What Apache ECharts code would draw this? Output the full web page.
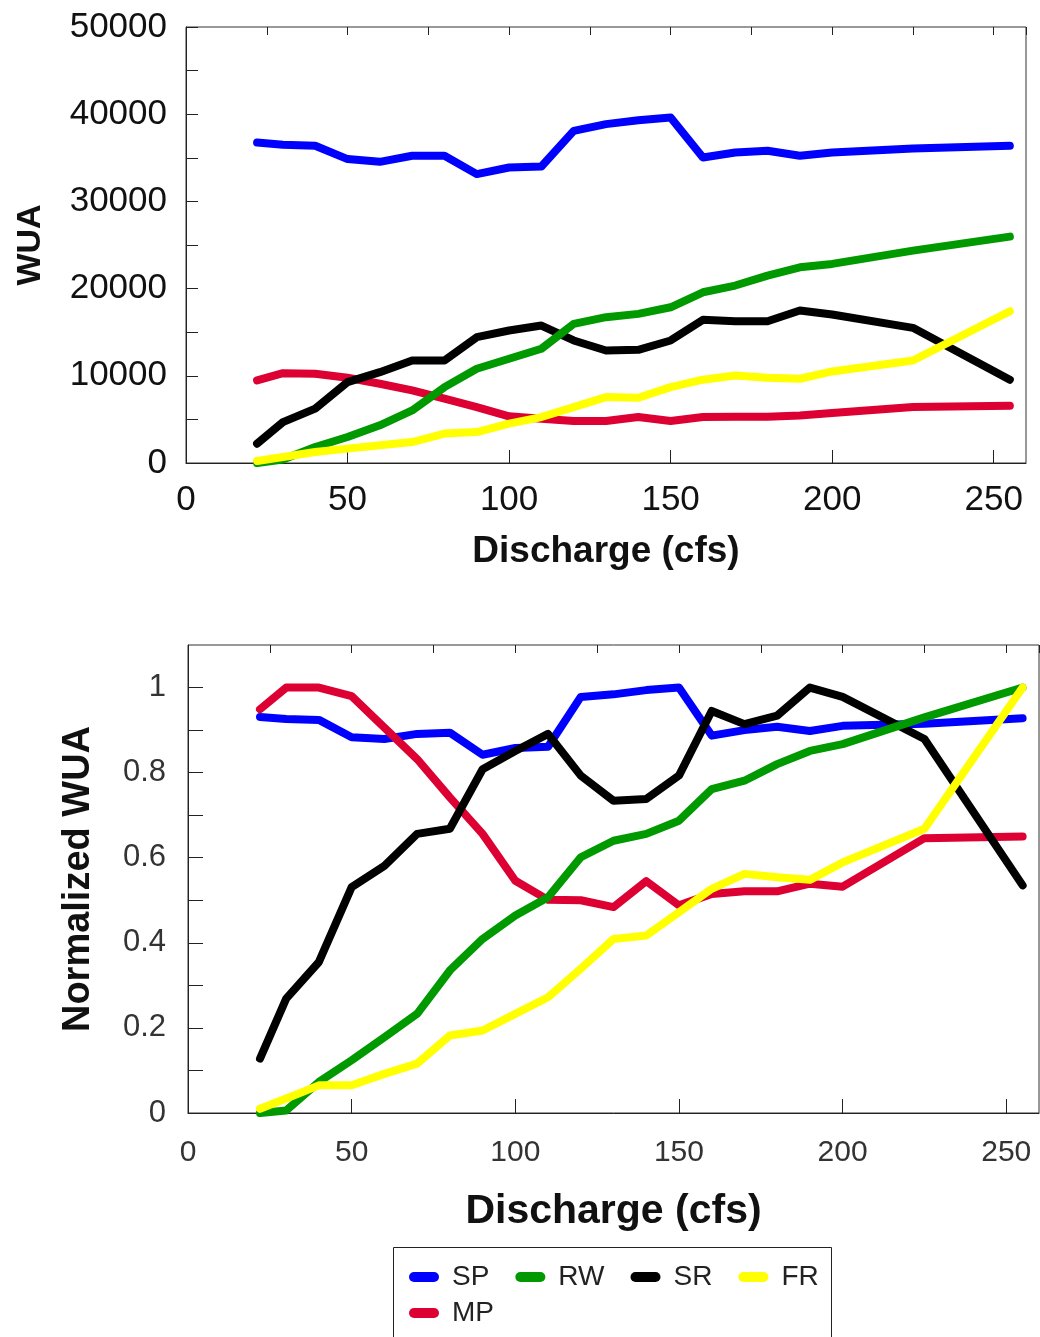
<!DOCTYPE html>
<html>
<head>
<meta charset="utf-8">
<script src="https://cdn.jsdelivr.net/npm/echarts@6/dist/echarts.min.js"></script>
<style>
html,body{margin:0;padding:0;background:#fff;}
#c{width:1040px;height:1337px;}
</style>
</head>
<body>
<div id="c"></div>
<script>
// ---- Data ----
const discharge = [22,30,40,50,60,70,80,90,100,110,120,130,140,150,160,170,180,190,200,225,255];

// Top panel: WUA
const wuaSP = [36750,36500,36380,34850,34540,35230,35230,33130,33890,34000,38090,38860,39310,39620,35030,35610,35800,35230,35610,36070,36380];
const wuaRW = [0,390,1830,2980,4320,6030,8700,10810,11950,13100,15960,16720,17100,17860,19580,20350,21490,22440,22830,24350,25960];
const wuaSR = [2220,4690,6230,9270,10420,11760,11760,14430,15190,15760,14050,12900,12980,14050,16420,16260,16260,17480,17030,15500,9550];
const wuaFR = [230,690,1260,1650,2030,2400,3370,3550,4510,5270,6410,7560,7490,8700,9550,10040,9780,9660,10500,11760,17400];
const wuaMP = [9470,10300,10240,9780,9090,8320,7370,6410,5350,5080,4810,4810,5270,4810,5270,5310,5310,5460,5730,6410,6570];

// Bottom panel: Normalized WUA
const normSP = [0.931,0.926,0.924,0.883,0.879,0.891,0.894,0.842,0.858,0.861,0.978,0.984,0.994,1.0,0.887,0.9,0.908,0.898,0.91,0.915,0.928];
const normRW = [0,0.006,0.073,0.124,0.178,0.233,0.335,0.409,0.464,0.507,0.601,0.64,0.656,0.687,0.761,0.781,0.82,0.851,0.867,0.93,1.0];
const normSR = [0.128,0.269,0.355,0.531,0.581,0.656,0.668,0.808,0.851,0.891,0.793,0.734,0.738,0.793,0.945,0.914,0.934,1.0,0.978,0.879,0.535];
const normFR = [0.01,0.034,0.065,0.065,0.092,0.116,0.182,0.194,0.233,0.272,0.339,0.409,0.417,0.472,0.527,0.562,0.554,0.548,0.589,0.668,1.0];
const normMP = [0.949,1.0,1.0,0.98,0.906,0.832,0.742,0.656,0.546,0.501,0.5,0.484,0.545,0.488,0.515,0.521,0.521,0.539,0.532,0.646,0.65];

const seriesNames = ['SP','RW','SR','FR','MP'];
const legendRow1 = ['SP','RW','SR','FR'];
const legendRow2 = ['MP'];
const xTitle = 'Discharge (cfs)';
const yTitleTop = 'WUA';
const yTitleBottom = 'Normalized WUA';

const colors = {SP:'#0000FF', RW:'#009900', SR:'#000000', FR:'#FFFF00', MP:'#DD0033'};
const FONT = '"Liberation Sans", Arial, sans-serif';

function pairs(xs, ys){ return xs.map((x,i)=>[x, ys[i]]); }

function mkSeries(name, vals, xi, yi){
  return {
    name: name, type: 'line', xAxisIndex: xi, yAxisIndex: yi,
    data: pairs(discharge, vals),
    showSymbol: false, symbol: 'none', smooth: false,
    color: colors[name],
    lineStyle: {width: 8, color: colors[name], cap: 'round', join: 'round'},
    emphasis: {disabled: true},
    animation: false
  };
}

const topData = {SP: wuaSP, RW: wuaRW, SR: wuaSR, FR: wuaFR, MP: wuaMP};
const botData = {SP: normSP, RW: normRW, SR: normSR, FR: normFR, MP: normMP};
// drawing order (later = on top)
const drawOrder = ['SP','MP','SR','RW','FR'];

const series = [];
drawOrder.forEach(n => series.push(mkSeries(n, topData[n], 0, 0)));
drawOrder.forEach(n => series.push(mkSeries(n, botData[n], 2, 1)));

const axisLineStyle = {show: true, lineStyle: {color: '#222', width: 1}};

const pill = 'path://M5,0 L25,0 A5,5 0 0 1 25,10 L5,10 A5,5 0 0 1 5,0 Z';

const chart = echarts.init(document.getElementById('c'), null, {renderer: 'canvas'});
chart.setOption({
  animation: false,
  backgroundColor: '#ffffff',
  grid: [
    {left: 186, top: 27, width: 840, height: 436, show: true, borderColor: '#333', borderWidth: 1, backgroundColor: 'transparent', containLabel: false},
    {left: 188, top: 645, width: 851, height: 468, show: true, borderColor: '#333', borderWidth: 1, backgroundColor: 'transparent', containLabel: false}
  ],
  xAxis: [
    {gridIndex: 0, type: 'value', min: 0, max: 260, interval: 50,
     axisLine: axisLineStyle,
     axisTick: {show: true, inside: true, length: 13, lineStyle: {color: '#222'}},
     axisLabel: {show: true, margin: 20, fontSize: 35, fontFamily: FONT, color: '#111', showMaxLabel: false},
     splitLine: {show: false},
     name: xTitle, nameLocation: 'middle', nameGap: 70,
     nameTextStyle: {fontSize: 37, fontWeight: 'bold', fontFamily: FONT, color: '#111'}},
    {gridIndex: 0, type: 'value', min: 0, max: 260, interval: 25,
     axisLine: {show: false},
     axisTick: {show: true, inside: true, length: 8, lineStyle: {color: '#222'}},
     axisLabel: {show: false}, splitLine: {show: false}},
    {gridIndex: 1, type: 'value', min: 0, max: 260, interval: 50,
     axisLine: axisLineStyle,
     axisTick: {show: true, inside: true, length: 14, lineStyle: {color: '#222'}},
     axisLabel: {show: true, margin: 25, fontSize: 30, fontFamily: FONT, color: '#333', showMaxLabel: false},
     splitLine: {show: false},
     name: xTitle, nameLocation: 'middle', nameGap: 78,
     nameTextStyle: {fontSize: 41, fontWeight: 'bold', fontFamily: FONT, color: '#111'}},
    {gridIndex: 1, type: 'value', min: 0, max: 260, interval: 25,
     axisLine: {show: false},
     axisTick: {show: true, inside: true, length: 8, lineStyle: {color: '#222'}},
     axisLabel: {show: false}, splitLine: {show: false}}
  ],
  yAxis: [
    {gridIndex: 0, type: 'value', min: 0, max: 50000, interval: 5000,
     axisLine: axisLineStyle,
     axisTick: {show: true, inside: true, length: 12, lineStyle: {color: '#222'}},
     axisLabel: {show: true, margin: 19, fontSize: 35, fontFamily: FONT, color: '#111',
       formatter: v => (Math.round(v) % 10000 === 0 ? String(Math.round(v)) : '')},
     splitLine: {show: false},
     name: yTitleTop, nameLocation: 'middle', nameGap: 138, nameRotate: 90,
     nameTextStyle: {fontSize: 34, fontWeight: 'bold', fontFamily: FONT, color: '#111'}},
    {gridIndex: 1, type: 'value', min: 0, max: 1.1, interval: 0.1,
     axisLine: axisLineStyle,
     axisTick: {show: true, inside: true, length: 15, lineStyle: {color: '#222'}},
     axisLabel: {show: true, margin: 22, fontSize: 31, fontFamily: FONT, color: '#333', showMaxLabel: false,
       formatter: v => { const k = Math.round(v * 10); return k % 2 === 0 ? String(k / 10) : ''; }},
     splitLine: {show: false},
     name: yTitleBottom, nameLocation: 'middle', nameGap: 90, nameRotate: 90,
     nameTextStyle: {fontSize: 38, fontWeight: 'bold', fontFamily: FONT, color: '#111'}}
  ],
  legend: [
    {data: legendRow1, left: 409, top: 1263, orient: 'horizontal', padding: 0, itemGap: 26,
     itemWidth: 30, itemHeight: 10, icon: pill, selectedMode: false,
     textStyle: {fontSize: 28, fontFamily: FONT, color: '#222', padding: [0,0,0,8]}},
    {data: legendRow2, left: 409, top: 1299, orient: 'horizontal', padding: 0, itemGap: 26,
     itemWidth: 30, itemHeight: 10, icon: pill, selectedMode: false,
     textStyle: {fontSize: 28, fontFamily: FONT, color: '#222', padding: [0,0,0,8]}}
  ],
  graphic: [
    {type: 'rect', silent: true, z: 0,
     shape: {x: 393.5, y: 1247.5, width: 438, height: 120},
     style: {fill: 'none', stroke: '#222', lineWidth: 1}}
  ],
  series: series
});
</script>
</body>
</html>
